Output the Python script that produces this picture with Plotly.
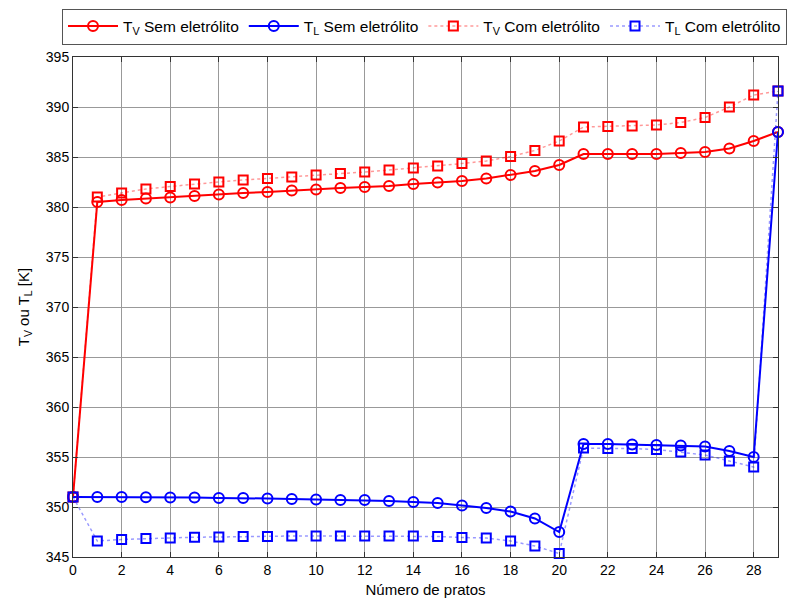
import plotly.graph_objects as go

pratos = list(range(0, 30))

tv_sem = [351.0, 380.5, 380.7, 380.85, 380.95, 381.1, 381.25, 381.4, 381.5, 381.65,
          381.75, 381.9, 382.0, 382.1, 382.3, 382.45, 382.6, 382.85, 383.2, 383.6,
          384.2, 385.3, 385.3, 385.3, 385.3, 385.4, 385.5, 385.85, 386.6, 387.5]
tl_sem = [351.0, 351.0, 351.0, 350.98, 350.95, 350.95, 350.9, 350.9, 350.85, 350.8,
          350.75, 350.7, 350.7, 350.6, 350.5, 350.4, 350.15, 349.9, 349.55, 348.85,
          347.5, 356.3, 356.3, 356.25, 356.2, 356.15, 356.05, 355.6, 355.0, 387.5]
tv_com = [351.0, 381.0, 381.4, 381.8, 382.05, 382.3, 382.5, 382.7, 382.85, 383.0,
          383.2, 383.35, 383.5, 383.7, 383.9, 384.1, 384.35, 384.6, 385.05, 385.65,
          386.6, 388.0, 388.05, 388.1, 388.2, 388.45, 388.95, 390.0, 391.2, 391.6]
tl_com = [351.0, 346.6, 346.75, 346.85, 346.9, 346.98, 347.0, 347.05, 347.05, 347.1,
          347.1, 347.1, 347.1, 347.1, 347.1, 347.05, 346.95, 346.9, 346.6, 346.1,
          345.35, 355.9, 355.85, 355.85, 355.75, 355.5, 355.2, 354.6, 354.0, 391.6]

x_ticks = list(range(0, 30, 2))
y_ticks = list(range(345, 396, 5))

names = ["T<sub>V</sub> Sem eletrólito", "T<sub>L</sub> Sem eletrólito",
         "T<sub>V</sub> Com eletrólito", "T<sub>L</sub> Com eletrólito"]

FONT = "Liberation Sans, Arial, sans-serif"

fig = go.Figure()
fig.add_trace(go.Scatter(x=pratos, y=tv_sem, name=names[0], mode="lines+markers", cliponaxis=False,
                         line=dict(color="#ff0000", width=2),
                         marker=dict(symbol="circle-open", size=10, color="#ff0000", line=dict(width=2))))
fig.add_trace(go.Scatter(x=pratos, y=tl_sem, name=names[1], mode="lines+markers", cliponaxis=False,
                         line=dict(color="#0000ff", width=2),
                         marker=dict(symbol="circle-open", size=10, color="#0000ff", line=dict(width=2))))
fig.add_trace(go.Scatter(x=pratos, y=tv_com, name=names[2], mode="lines+markers", cliponaxis=False,
                         line=dict(color="rgba(255,0,0,0.4)", width=1.5, dash="dot"),
                         marker=dict(symbol="square-open", size=9, color="#ff0000", line=dict(width=2))))
fig.add_trace(go.Scatter(x=pratos, y=tl_com, name=names[3], mode="lines+markers", cliponaxis=False,
                         line=dict(color="rgba(0,0,255,0.4)", width=1.5, dash="dot"),
                         marker=dict(symbol="square-open", size=9, color="#0000ff", line=dict(width=2))))

axis_common = dict(showline=True, linecolor="#333333", linewidth=1, mirror="ticks",
                   ticks="inside", ticklen=5, tickcolor="#333333",
                   showgrid=True, gridcolor="#999999", gridwidth=1, zeroline=False,
                   tickfont=dict(family=FONT, size=14, color="#000"))

fig.update_xaxes(range=[0, 29], tickvals=x_ticks, **axis_common,
                 title=dict(text="Número de pratos", standoff=7,
                            font=dict(family=FONT, size=15, color="#000")))
fig.update_yaxes(range=[345, 395], tickvals=y_ticks, **axis_common,
                 title=dict(text="T<sub>V</sub> ou T<sub>L</sub> [K]", standoff=12,
                            font=dict(family=FONT, size=15, color="#000")))

fig.update_layout(
    width=787, height=603,
    margin=dict(l=73, r=8, t=54, b=44),
    paper_bgcolor="white", plot_bgcolor="white",
    font=dict(family=FONT, size=14, color="#000"),
    legend=dict(orientation="h", x=-0.012, xanchor="left", y=1.097, yanchor="top",
                bordercolor="#555555", borderwidth=1, bgcolor="white",
                font=dict(family=FONT, size=15.5), itemwidth=50, tracegroupgap=0),
    showlegend=True,
)

fig.write_html("out.html")
